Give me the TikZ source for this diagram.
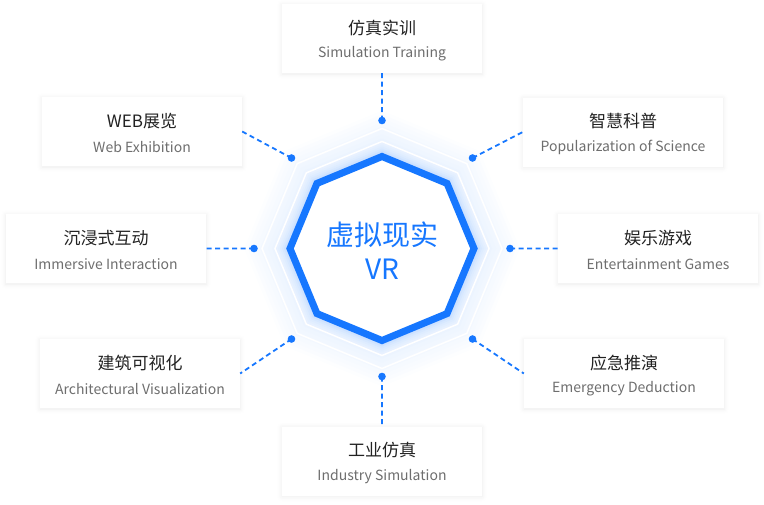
\documentclass[tikz,border=0pt]{standalone}
\usepackage{fontspec}
\setmainfont{Noto Sans CJK SC}
\usetikzlibrary{positioning,shadows.blur}
\definecolor{vrblue}{HTML}{1677FF}
\definecolor{titlegray}{HTML}{222222}
\definecolor{subgray}{HTML}{6E6E6E}
\tikzset{
  box/.style={fill=white, minimum width=200pt, minimum height=69pt, inner sep=0pt,
    blur shadow={shadow xshift=0pt, shadow yshift=-1pt, shadow blur radius=5pt,
      shadow blur steps=8, shadow opacity=8}},
  title/.style={text=titlegray, font=\fontsize{17}{20}\selectfont, inner sep=0pt},
  sub/.style={text=subgray, font=\fontsize{14}{16}\selectfont, inner sep=0pt},
  link/.style={vrblue, line width=1.8pt, dash pattern=on 5pt off 3.5pt},
  hub/.style={text=vrblue, font=\fontsize{28}{34}\selectfont, align=center, inner sep=0pt}
}
\begin{document}
\begin{tikzpicture}[x=1pt, y=-1pt]
\useasboundingbox (0,0) rectangle (764,504);
% glow round the octagon
\foreach \r/\c in {138/1, 134/2, 130/3, 126/4, 122/5, 118/6, 114/7, 110/8, 107/10,
                   104/12, 102/14, 100/17, 98/21, 96/27}
  \fill[vrblue!\c!white, shift={(382,248.5)}]
    (0:\r) \foreach \a in {45,90,...,315} {-- (\a:\r)} -- cycle;
\foreach \r in {120, 107}
  \draw[white, line width=1.5pt, shift={(382,248.5)}]
    (0:\r) \foreach \a in {45,90,...,315} {-- (\a:\r)} -- cycle;
\draw[vrblue, line width=7pt, fill=white, shift={(382,248.5)}]
    (0:92) \foreach \a in {45,90,...,315} {-- (\a:92)} -- cycle;
\node[hub] (vr) at (382,251) {虚拟现实\\VR};

% boxes
\path (382,38.5) node[box] (sim) {}
      (142,131.5) node[box] (web) {}
      (106,248.5) node[box] (imm) {}
      (140,373.5) node[box] (arch) {}
      (382,461) node[box] (ind) {}
      (624,373.5) node[box] (emg) {}
      (658,248.5) node[box] (ent) {}
      (623,132) node[box] (pop) {};
\path ([yshift=10.5pt]sim.center) node[title] (sim-t) {仿真实训}
      ([yshift=-15.5pt]sim.center) node[sub] (sim-s) {Simulation Training}
      ([yshift=10.5pt]web.center) node[title] (web-t) {WEB展览}
      ([yshift=-15.5pt]web.center) node[sub] (web-s) {Web Exhibition}
      ([yshift=10.5pt]imm.center) node[title] (imm-t) {沉浸式互动}
      ([yshift=-15.5pt]imm.center) node[sub] (imm-s) {Immersive Interaction}
      ([yshift=10.5pt]arch.center) node[title] (arch-t) {建筑可视化}
      ([yshift=-15.5pt]arch.center) node[sub] (arch-s) {Architectural Visualization}
      ([yshift=10.5pt]ind.center) node[title] (ind-t) {工业仿真}
      ([yshift=-15.5pt]ind.center) node[sub] (ind-s) {Industry Simulation}
      ([yshift=10.5pt]emg.center) node[title] (emg-t) {应急推演}
      ([yshift=-15.5pt]emg.center) node[sub] (emg-s) {Emergency Deduction}
      ([yshift=10.5pt]ent.center) node[title] (ent-t) {娱乐游戏}
      ([yshift=-15.5pt]ent.center) node[sub] (ent-s) {Entertainment Games}
      ([yshift=10.5pt]pop.center) node[title] (pop-t) {智慧科普}
      ([yshift=-15.5pt]pop.center) node[sub] (pop-s) {Popularization of Science};

% dots and dashed links
\path[shift={(382,248.5)}]
      (270:128) coordinate (d-sim)
      (225:128) coordinate (d-web)
      (180:128) coordinate (d-imm)
      (135:128) coordinate (d-arch)
      (90:128) coordinate (d-ind)
      (45:128) coordinate (d-emg)
      (0:128) coordinate (d-ent)
      (315:128) coordinate (d-pop);
\draw[link] (d-sim) -- (sim.south)
      (d-web) -- (web.east)
      (d-imm) -- (imm.east)
      (d-arch) -- (arch.east)
      (d-ind) -- (ind.north)
      (d-emg) -- (emg.west)
      (d-ent) -- (ent.west)
      (d-pop) -- (pop.west);
\fill[vrblue] (d-sim) circle (3.8) (d-web) circle (3.8) (d-imm) circle (3.8)
      (d-arch) circle (3.8) (d-ind) circle (3.8) (d-emg) circle (3.8)
      (d-ent) circle (3.8) (d-pop) circle (3.8);
\end{tikzpicture}
\end{document}
